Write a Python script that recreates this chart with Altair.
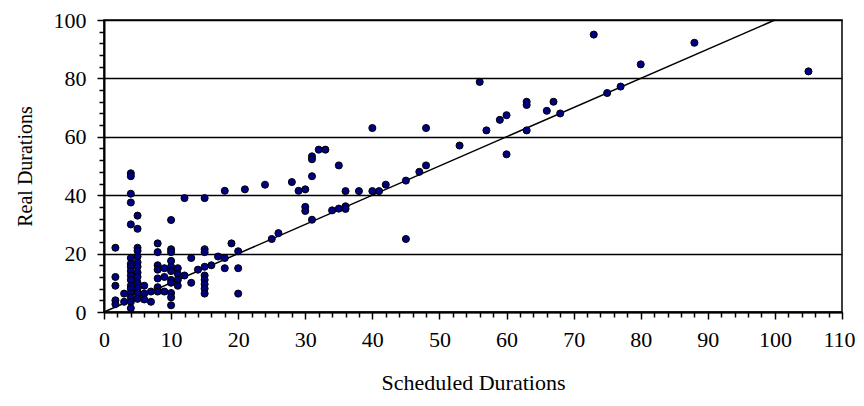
import altair as alt
import pandas as pd

# Scheduled vs real durations
sched = [
    1.7, 1.7, 1.7, 1.7, 1.7,
    3, 3,
    4, 4, 4, 4, 4, 4, 4, 4, 4, 4, 4, 4, 4, 4, 4, 4, 4,
    5, 5, 5, 5, 5, 5, 5, 5, 5, 5, 5, 5, 5,
    6, 6, 6,
    7, 7,
    8, 8, 8, 8, 8, 8, 8,
    9, 9, 9,
    10, 10, 10, 10, 10, 10, 10, 10, 10, 10, 10,
    11, 11, 11, 11,
    12, 12,
    13, 13,
    14,
    15, 15, 15, 15, 15, 15, 15, 15, 15,
    16, 17, 18, 18, 18, 19, 20, 20, 20, 21,
    24, 25, 26, 28, 29, 30, 30, 30,
    31, 31, 31, 31, 32, 33, 34, 35, 35, 36, 36, 36,
    38, 40, 40, 41, 42, 45, 45, 47, 48, 48,
    53, 56, 57, 59, 60, 60, 63, 63, 63, 66, 67, 68,
    73, 75, 77, 80, 88, 105,
]
real = [
    22, 12, 9, 4, 2.7,
    6.3, 3.5,
    47.5, 46.5, 40.5, 37.5, 30, 18.5, 16.5, 15.5, 14, 12.5, 11, 9, 8, 6.5, 5, 3.5, 1.3,
    33, 28.5, 22, 21, 19, 17, 15.5, 13.5, 12, 10, 8, 6.5, 4.5,
    9, 6.3, 4.3,
    3.5, 7,
    23.5, 20.5, 16, 14.5, 11.5, 8.5, 7,
    15, 12, 7,
    31.5, 21.5, 20.5, 17.5, 15.5, 14, 11, 10, 6.5, 5, 2.3,
    15, 13, 11, 9,
    39, 12.5,
    18.5, 10,
    14.5,
    39, 21.5, 20.5, 15.5, 12.5, 11, 9.5, 8, 6.3,
    16, 19, 41.5, 18.5, 15, 23.5, 20.8, 15, 6.3, 42,
    43.6, 25, 27, 44.5, 41.5, 42, 36, 34.6,
    53.3, 52.3, 46.5, 31.6, 55.6, 55.6, 34.8, 35.4, 50.2, 36.2, 35.3, 41.4,
    41.4, 41.4, 63, 41.4, 43.6, 45, 25, 48, 50.2, 63,
    57, 78.8, 62.2, 65.8, 67.4, 54, 72, 70.9, 62.2, 68.9, 72, 68,
    95, 75, 77.2, 84.8, 92.2, 82.4,
]
line_x = [0, 100]
line_y = [0, 100]
x_ticks = list(range(0, 111, 2))
y_ticks = list(range(0, 101, 4))

df = pd.DataFrame({"Scheduled": sched, "Real": real})
ldf = pd.DataFrame({"Scheduled": line_x, "Real": line_y})

FONT = "Liberation Serif"

x_axis = alt.Axis(
    title="Scheduled Durations",
    values=x_ticks,
    labelExpr="datum.value % 10 === 0 ? datum.label : ''",
    grid=False,
    tickSize={"condition": {"test": "datum.value % 10 === 0", "value": 7}, "value": 5},
    tickColor="black",
    tickWidth=1.5,
    domainColor="black",
    domainWidth=2,
    labelFont=FONT,
    labelFontSize=22,
    labelColor="black",
    labelPadding=10,
    labelFlush=False,
    labelOverlap=False,
    labelOffset={"condition": {"test": "datum.value === 110", "value": -3}, "value": 0},
    titleFont=FONT,
    titleFontSize=22,
    titleFontWeight="normal",
    titleColor="black",
    titlePadding=22,
)
y_axis = alt.Axis(
    title="Real Durations",
    values=y_ticks,
    labelExpr="datum.value % 20 === 0 ? datum.label : ''",
    grid=True,
    gridColor="black",
    gridWidth=1.5,
    gridOpacity={"condition": {"test": "datum.value % 20 === 0", "value": 1}, "value": 0},
    tickSize={"condition": {"test": "datum.value % 20 === 0", "value": 7}, "value": 5},
    tickColor="black",
    tickWidth=1.5,
    domainColor="black",
    domainWidth=2,
    labelFont=FONT,
    labelFontSize=22,
    labelColor="black",
    labelPadding=11,
    labelFlush=False,
    labelOverlap=False,
    titleFont=FONT,
    titleFontSize=20,
    titleFontWeight="normal",
    titleColor="black",
    titlePadding=18,
)

xs = alt.Scale(domain=[0, 110], nice=False, zero=True)
ys = alt.Scale(domain=[0, 100], nice=False, zero=True)

line = alt.Chart(ldf).mark_line(color="black", strokeWidth=1.5).encode(
    x=alt.X("Scheduled:Q", scale=xs, axis=x_axis),
    y=alt.Y("Real:Q", scale=ys, axis=y_axis),
)
points = alt.Chart(df).mark_point(
    filled=True, fill="#000080", stroke="black", strokeWidth=1, size=50, opacity=1
).encode(
    x=alt.X("Scheduled:Q", scale=xs, axis=x_axis),
    y=alt.Y("Real:Q", scale=ys, axis=y_axis),
)

chart = (
    alt.layer(line, points)
    .properties(
        width=738,
        height=292,
        autosize=alt.AutoSizeParams(type="none"),
        padding={"left": 96, "top": 12, "right": 14, "bottom": 90},
        background="white",
    )
    .configure_view(stroke="black", strokeWidth=1.5)
)

chart.save("out.html", embed_options={"renderer": "svg", "actions": False})
